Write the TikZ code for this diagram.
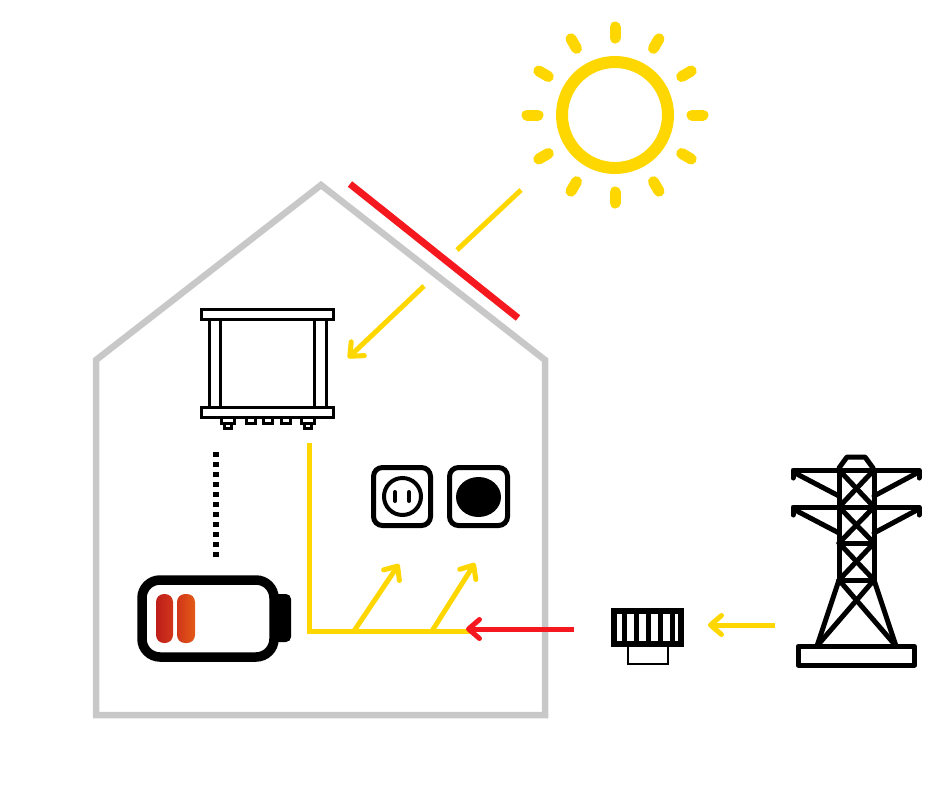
\documentclass[tikz,border=0pt]{standalone}
\usepackage{tikz}
\usetikzlibrary{arrows.meta,positioning,calc}

\definecolor{sunyellow}{HTML}{FFD700}
\definecolor{panelred}{HTML}{F5191F}
\definecolor{wallgray}{HTML}{C8C8C8}
\definecolor{cellred}{HTML}{BE1E1A}
\definecolor{cellmid}{HTML}{D2361A}
\definecolor{cellorange}{HTML}{E25A16}

\tikzset{
	flowyellow/.style={draw=sunyellow,line width=5pt},
	flowarrow/.style={flowyellow,-{Straight Barb[round,length=11pt,width=19pt,line width=5pt]}},
	gridarrow/.style={draw=panelred,line width=5pt,-{Straight Barb[round,length=11pt,width=19pt,line width=5pt]}},
	icon/.style={draw=black,line width=3pt},
	tower/.style={draw=black,line width=5pt,line cap=round,line join=round},
	outlet/.style={draw=black,line width=5pt,rounded corners=9pt}
}

\begin{document}
\begin{tikzpicture}[x=1pt,y=-1pt]
			\useasboundingbox (0,0) rectangle (940,788);

			% house and roof
			\draw[draw=wallgray,line width=6.5pt] (96,360) -- (321,185) -- (545,360) -- (545,715) -- (96,715) -- cycle;
			\coordinate (panelA) at (350,184);
			\coordinate (panelB) at (518,318);
			\draw[draw=panelred,line width=7pt] (panelA) -- (panelB);

			% sun
			\coordinate (sun) at (615,115);
			\draw[draw=sunyellow,line width=12pt] (sun) circle (53);
			\foreach \a in {0,30,...,330}
				\draw[draw=sunyellow,line width=11pt,line cap=round] ($(sun)+(\a:77)$) -- ($(sun)+(\a:88)$);

			% inverter
			\draw[icon] (201,309) rectangle (333,319);
			\draw[icon] (201,407) rectangle (333,417);
			\draw[icon] (209,319) -- (209,407);
			\draw[icon] (220,319) -- (220,407);
			\draw[icon] (314,319) -- (314,407);
			\draw[icon] (326,319) -- (326,407);
			\draw[icon] (221,417) -- (221,423) -- (234,423) -- (234,417);
			\draw[icon] (224,423) rectangle (231,428);
			\draw[icon] (246,417) -- (246,423) -- (255,423) -- (255,417);
			\draw[icon] (263,417) -- (263,423) -- (272,423) -- (272,417);
			\draw[icon] (281,417) -- (281,423) -- (290,423) -- (290,417);
			\draw[icon] (301,417) -- (301,423) -- (314,423) -- (314,417);
			\draw[icon] (304,423) rectangle (311,428);

			% battery
			\draw[draw=black,line width=9.5pt,rounded corners=18pt] (142,580) rectangle (274,657);
			\fill[black,rounded corners=5pt] (270,594) rectangle (291,642);
			\shade[left color=cellred,right color=cellmid,rounded corners=8pt] (156,594) rectangle (173,643);
			\shade[left color=cellmid,right color=cellorange,rounded corners=8pt] (177,594) rectangle (195,643);
			\coordinate (invbat) at (216,452);
			\coordinate (batinv) at (216,557);
			\draw[draw=black,line width=5.5pt,dash pattern=on 5pt off 5pt] (invbat) -- (batinv);

			% outlets
			\draw[outlet] (373.5,467.5) rectangle (430.5,525.5);
			\draw[draw=black,line width=4pt] (402.5,496.5) circle (18.5);
			\draw[draw=black,line width=4pt,line cap=round] (395,492) -- (395,501);
			\draw[draw=black,line width=4pt,line cap=round] (409,492) -- (409,501);
			\draw[outlet] (449.5,467.5) rectangle (507.5,525.5);
			\fill[black] (478.5,497) ellipse (22.5 and 20);

			% meter
			\draw[draw=black,line width=2.6pt] (628,645) rectangle (668,664);
			\draw[draw=black,line width=6pt] (614,611) rectangle (681,644);
			\foreach \x in {624.5,636,648,660.5,672}
				\draw[draw=black,line width=5pt] (\x,612) -- (\x,642);

			% pylon
			\draw[tower] (839,468) -- (847,457) -- (865,457) -- (873,468);
			\draw[tower] (793,478) -- (793,470) -- (919,470) -- (919,478);
			\draw[tower] (793,515) -- (793,507) -- (919,507) -- (919,515);
			\draw[tower] (795,473) -- (839,496);
			\draw[tower] (917,473) -- (874,496);
			\draw[tower] (795,510) -- (839,533);
			\draw[tower] (917,510) -- (874,533);
			\draw[tower] (839,470) -- (839,580);
			\draw[tower] (874,470) -- (874,580);
			\draw[tower] (839,543) -- (874,543);
			\draw[tower] (839,580) -- (874,580);
			\foreach \t/\b in {470/507,507/543,543/580} {
				\draw[tower] (839,\t) -- (874,\b);
				\draw[tower] (874,\t) -- (839,\b);
			}
			\draw[tower] (839,580) -- (817,646);
			\draw[tower] (874,580) -- (896,646);
			\draw[tower] (839,580) -- (896,646);
			\draw[tower] (874,580) -- (817,646);
			\draw[draw=black,line width=5pt,line join=round] (798,646.5) rectangle (914.5,665);

			% flows
			\coordinate (rayA) at (521,190);
			\coordinate (rayB) at (457,250);
			\coordinate (rayC) at (424,286);
			\coordinate (rayD) at (348,358);
			\coordinate (busA) at (309,443);
			\coordinate (busB) at (309,631);
			\coordinate (busC) at (470,631);
			\coordinate (tapA) at (354,631);
			\coordinate (tapB) at (432,631);
			\coordinate (plugA) at (399,564);
			\coordinate (plugB) at (475,563);
			\coordinate (meterL) at (574,629);
			\coordinate (busR) at (466,629);
			\coordinate (towerL) at (775,625);
			\coordinate (meterR) at (708,625);
			\draw[flowyellow] (rayA) -- (rayB);
			\draw[flowarrow] (rayC) -- (rayD);
			\draw[flowyellow] (busA) -- (busB) -- (busC);
			\draw[flowarrow] (tapA) -- (plugA);
			\draw[flowarrow] (tapB) -- (plugB);
			\draw[gridarrow] (meterL) -- (busR);
			\draw[flowarrow] (towerL) -- (meterR);
			\end{tikzpicture}
\end{document}
